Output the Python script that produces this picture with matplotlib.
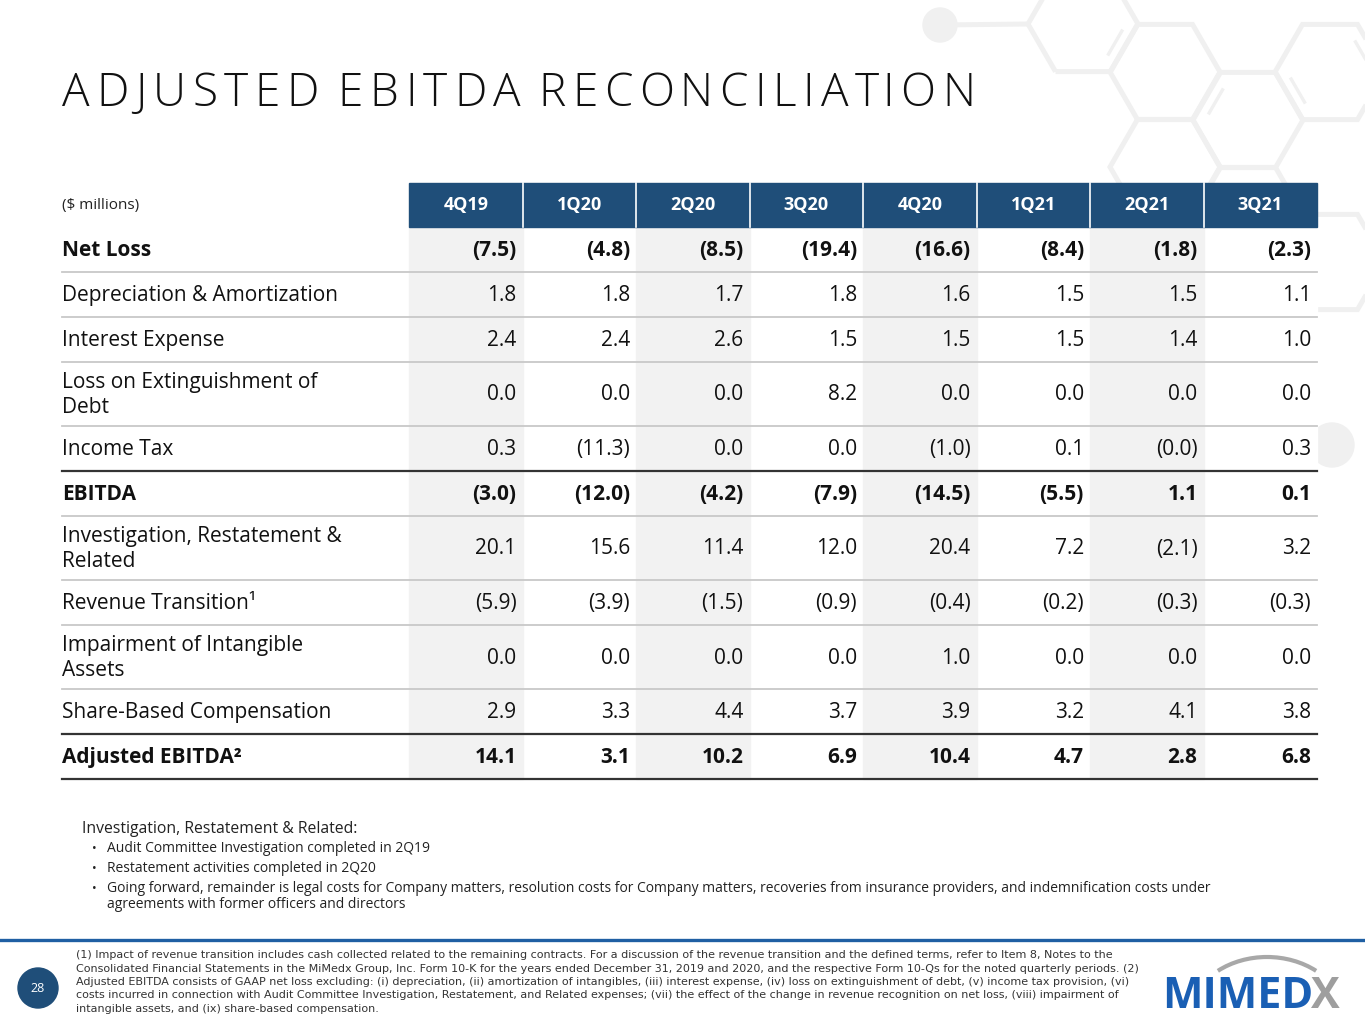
import numpy as np
import matplotlib
matplotlib.use("Agg")
import matplotlib.pyplot as plt
from matplotlib.patches import Rectangle, RegularPolygon, Circle, Arc
from matplotlib.font_manager import FontProperties

# ---- data ----
QUARTERS = ["4Q19", "1Q20", "2Q20", "3Q20", "4Q20", "1Q21", "2Q21", "3Q21"]

ROW_LABELS = [
    "Net Loss",
    "Depreciation & Amortization",
    "Interest Expense",
    "Loss on Extinguishment of\nDebt",
    "Income Tax",
    "EBITDA",
    "Investigation, Restatement &\nRelated",
    "Revenue Transition\u00b9",
    "Impairment of Intangible\nAssets",
    "Share-Based Compensation",
    "Adjusted EBITDA\u00b2",
]
BOLD_ROWS = [0, 5, 10]

net_loss      = [-7.5, -4.8, -8.5, -19.4, -16.6, -8.4, -1.8, -2.3]
dep_amort     = [1.8, 1.8, 1.7, 1.8, 1.6, 1.5, 1.5, 1.1]
interest_exp  = [2.4, 2.4, 2.6, 1.5, 1.5, 1.5, 1.4, 1.0]
loss_extinct  = [0.0, 0.0, 0.0, 8.2, 0.0, 0.0, 0.0, 0.0]
income_tax    = [0.3, -11.3, 0.0, 0.0, -1.0, 0.1, -0.04, 0.3]
ebitda        = [-3.0, -12.0, -4.2, -7.9, -14.5, -5.5, 1.1, 0.1]
investigation = [20.1, 15.6, 11.4, 12.0, 20.4, 7.2, -2.1, 3.2]
revenue_trans = [-5.9, -3.9, -1.5, -0.9, -0.4, -0.2, -0.3, -0.3]
impairment    = [0.0, 0.0, 0.0, 0.0, 1.0, 0.0, 0.0, 0.0]
share_comp    = [2.9, 3.3, 4.4, 3.7, 3.9, 3.2, 4.1, 3.8]
adj_ebitda    = [14.1, 3.1, 10.2, 6.9, 10.4, 4.7, 2.8, 6.8]

ROWS = [net_loss, dep_amort, interest_exp, loss_extinct, income_tax, ebitda,
        investigation, revenue_trans, impairment, share_comp, adj_ebitda]

TITLE = "ADJUSTED EBITDA RECONCILIATION"
BULLET_HEAD = "Investigation, Restatement & Related:"
BULLETS = [
    ["Audit Committee Investigation completed in 2Q19"],
    ["Restatement activities completed in 2Q20"],
    ["Going forward, remainder is legal costs for Company matters, resolution costs for Company matters, "
     "recoveries from insurance providers, and indemnification costs under",
     "agreements with former officers and directors"],
]

FOOTNOTE = [
    "(1) Impact of revenue transition includes cash collected related to the remaining contracts. For a discussion of the revenue transition and the defined terms, refer to Item 8, Notes to the",
    "Consolidated Financial Statements in the MiMedx Group, Inc. Form 10-K for the years ended December 31, 2019 and 2020, and the respective Form 10-Qs for the noted quarterly periods. (2)",
    "Adjusted EBITDA consists of GAAP net loss excluding: (i) depreciation, (ii) amortization of intangibles, (iii) interest expense, (iv) loss on extinguishment of debt, (v) income tax provision, (vi)",
    "costs incurred in connection with Audit Committee Investigation, Restatement, and Related expenses; (vii) the effect of the change in revenue recognition on net loss, (viii) impairment of",
    "intangible assets, and (ix) share-based compensation.",
]
PAGE = "28"

# ---- style ----
BLUE_HEAD = "#1f4e79"
BLUE_LINE = "#1f5fa3"
LOGO_BLUE = "#1a5fb4"
SHADE = "#f2f2f2"
HEX = "#f0f0f0"
FONT = "Open Sans"
NARROW = ["Liberation Sans Narrow", "DejaVu Sans"]
INK = "#111111"

W, H = 1365, 1024
fig = plt.figure(figsize=(W / 100, H / 100), dpi=100)
ax = fig.add_axes([0, 0, 1, 1])
ax.set_xlim(0, W)
ax.set_ylim(H, 0)
ax.axis("off")
renderer = fig.canvas.get_renderer()


def fmt(v):
    return f"({abs(v):.1f})" if v < 0 else f"{v:.1f}"


# ---- background hexagons ----
R = 55
hex_centers = [(1083, 24), (1165, 72), (1248, 120), (1330, 72), (1165, 167),
               (1248, 215), (1330, 262)]
for cx, cy in hex_centers:
    ax.add_patch(RegularPolygon((cx, cy), 6, radius=R, orientation=np.pi / 6,
                                fill=False, ec=HEX, lw=3.6, zorder=0))


def inner_edge(c, k):
    ang = np.deg2rad([60 * k, 60 * (k + 1)])
    p = np.array(c) + 0.78 * R * np.column_stack([np.cos(ang), np.sin(ang)])
    a, b = p[0] + 0.15 * (p[1] - p[0]), p[0] + 0.85 * (p[1] - p[0])
    ax.plot([a[0], b[0]], [a[1], b[1]], color=HEX, lw=2.4, zorder=0,
            solid_capstyle="butt")


inner_edge((1083, 24), 0)
inner_edge((1248, 120), 3)
inner_edge((1330, 72), 2)
inner_edge((1330, 72), 5)
ax.plot([940, 1028], [25, 24], color=HEX, lw=3.6, zorder=0)
ax.add_patch(Circle((940, 25), 17, color=HEX, zorder=0))
ax.add_patch(Circle((1332, 445), 22, color=HEX, zorder=0))

# ---- title (letter-spaced, narrower word gaps) ----
fp = FontProperties(family=FONT, weight="light", size=33)
bar_w = renderer.get_text_width_height_descent("|", fp, ismath=False)[0]


def adv(s):
    return renderer.get_text_width_height_descent(s + "|", fp, ismath=False)[0] - bar_w


space_shrink = 6
n_space = TITLE.count(" ")
title_left, title_right = 62, 975
track = (title_right - title_left - adv(TITLE) + n_space * space_shrink) / (len(TITLE) - 1)
for k, ch in enumerate(TITLE):
    if ch == " ":
        continue
    x = title_left + adv(TITLE[:k]) + k * track - TITLE[:k].count(" ") * space_shrink
    ax.text(x, 106, ch, fontproperties=fp, color=INK, va="baseline", ha="left")

# ---- table ----
x0, x_lab, x_end = 62, 409, 1317
col_w = (x_end - x_lab) / len(QUARTERS)
head_top, head_bot = 183, 227
row_h = [64 if "\n" in lab else 45 for lab in ROW_LABELS]
edges = head_bot + np.concatenate([[0], np.cumsum(row_h)])
table_bot = edges[-1]

ax.add_patch(Rectangle((x0, head_bot), x_end - x0, table_bot - head_bot,
                       color="white", zorder=1))
for i, q in enumerate(QUARTERS):
    left = x_lab + i * col_w
    ax.add_patch(Rectangle((left, head_top), col_w, head_bot - head_top,
                           color=BLUE_HEAD, zorder=2))
    if i % 2 == 0:
        ax.add_patch(Rectangle((left, head_bot), col_w, table_bot - head_bot,
                               color=SHADE, zorder=1.5))
    ax.text(left + col_w / 2, (head_top + head_bot) / 2, q, color="white",
            fontsize=13, fontweight="bold", family=FONT, ha="center",
            va="center", zorder=3)
for i in range(1, len(QUARTERS)):
    ax.plot([x_lab + i * col_w] * 2, [head_top, head_bot], color="white",
            lw=1.2, zorder=3)
ax.text(x0, 205, "($ millions)", fontsize=11, family=FONT, color="#222222",
        ha="left", va="center")

for r, (lab, vals) in enumerate(zip(ROW_LABELS, ROWS)):
    yc = (edges[r] + edges[r + 1]) / 2
    wt = "bold" if r in BOLD_ROWS else "normal"
    ax.text(x0, yc + 1, lab, fontsize=15, family=FONT, fontweight=wt,
            color=INK, ha="left", va="center", linespacing=1.2, zorder=3)
    for i, v in enumerate(vals):
        ax.text(x_lab + (i + 1) * col_w - 6, yc + 1, fmt(v), fontsize=15,
                family=FONT, fontweight=wt, color=INK, ha="right",
                va="center", zorder=3)

dark_after = [4, 9, 10]
for r in range(len(ROW_LABELS)):
    dark = r in dark_after
    ax.plot([x0, x_end], [edges[r + 1]] * 2,
            color="#333333" if dark else "#c8c8c8",
            lw=1.6 if dark else 1.3, zorder=3)

# ---- bullets ----
ax.text(82, 833, BULLET_HEAD, fontsize=11.3, family=FONT, color="#222222",
        va="baseline")
y = 852
for lines in BULLETS:
    ax.text(92, y, "\u2022", fontsize=9, family=FONT, color="#222222",
            va="baseline")
    for ln in lines:
        ax.text(107, y, ln, fontsize=10, family=FONT, color="#222222",
                va="baseline")
        y += 16
    y += 4

# ---- footer ----
ax.plot([0, W], [940, 940], color=BLUE_LINE, lw=2.4, zorder=3)
ax.add_patch(Circle((38, 988), 20, color=BLUE_HEAD, zorder=3))
ax.text(38, 989, PAGE, color="white", fontsize=9, family=FONT, ha="center",
        va="center", zorder=4)
for k, line in enumerate(FOOTNOTE):
    ax.text(76, 958 + k * 13.5, line, fontsize=8.0, family=NARROW,
            color="#333333", va="baseline")

# logo
ax.text(1313, 1008, "MIMED", fontsize=31, family=FONT, fontweight="bold",
        color=LOGO_BLUE, ha="right", va="baseline")
ax.text(1311, 1008, "X", fontsize=31, family=FONT, fontweight="bold",
        color="#9e9e9e", ha="left", va="baseline")
ax.add_patch(Arc((1267, 1020), 157, 126, theta1=225, theta2=315,
                 color="#a8a8a8", lw=3))

fig.savefig("out.png", dpi=100)
